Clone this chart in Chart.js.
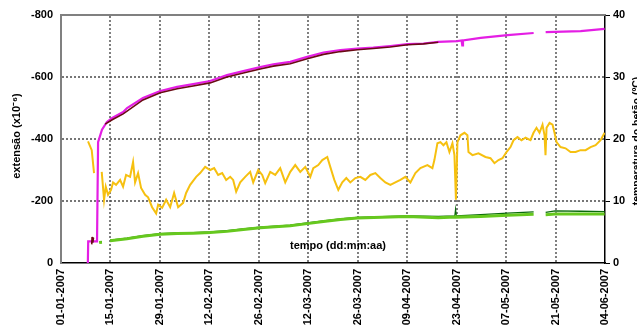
<!DOCTYPE html>
<html>
<head>
<meta charset="utf-8">
<script src="https://cdn.jsdelivr.net/npm/chart.js@4/dist/chart.umd.min.js"></script>
<style>
  html, body { margin: 0; padding: 0; background: #fff; overflow: hidden; }
  canvas { display: block; }
</style>
</head>
<body>
<canvas id="c" width="637" height="328"></canvas>
<script>
// Days counted from 01-01-2007
const tickDays = [0, 14, 28, 42, 56, 70, 84, 98, 112, 126, 140, 154];
const dateLabels = ['01-01-2007', '15-01-2007', '29-01-2007', '12-02-2007', '26-02-2007', '12-03-2007',
                    '26-03-2007', '09-04-2007', '23-04-2007', '07-05-2007', '21-05-2007', '04-06-2007'];
const strainTicks = [-800, -600, -400, -200, 0];
const tempTicks = [0, 10, 20, 30, 40];

// Strain gauge A (magenta), x10^-6
const gaugeADays = [7.6, 7.7, 10.2, 10.5, 11.6, 13.0, 14.5, 17.6, 18.7, 23.2, 28.1, 32.9, 37.4, 42.2, 47.0,
                    51.6, 56.4, 60.1, 64.9, 69.7, 74.3, 79.1, 83.9, 88.4, 93.2, 98.1, 102.6, 106.8, 112.2,
                    113.4, 113.6, 113.8, 118.8, 126.4, 133.8, 135.5, 137.2, 147.1, 153.9];
const gaugeAVals = [0, -70, -70, -390, -430, -455, -468, -487, -500, -532, -555, -568, -577, -587, -606,
                    -619, -632, -641, -649, -665, -679, -687, -692, -695, -700, -706, -708, -713, -716,
                    -718, -702, -718, -726, -735, -742, null, -745, -748, -755];

// Strain gauge B (dark red), x10^-6
const gaugeBDays = [8.7, 8.8, 9.0, 9.2, 9.6, 12.5, 14.5, 17.6, 23.2, 28.1, 32.9, 37.4, 42.2, 47.0, 51.6,
                    56.4, 60.1, 64.9, 69.7, 74.3, 79.1, 83.9, 88.4, 93.2, 98.1, 102.6, 106.8];
const gaugeBVals = [-60, -84, -66, -82, null, -448, -462, -481, -526, -549, -562, -571, -581, -600, -613,
                    -626, -635, -643, -659, -673, -682, -688, -692, -697, -704, -707, -712];

// Concrete temperature (ºC)
const tempDays = [7.65, 8.7, 9.35, 10.0,
  11.53, 12.19, 12.67, 13.32, 14.17, 14.74, 15.59, 16.73, 17.57, 18.42, 19.55, 20.40, 20.97, 21.82, 22.67,
  23.81, 24.66, 25.79, 26.93, 27.49, 28.63, 29.76, 30.90, 32.02, 33.16, 34.57, 35.42, 36.56, 38.26, 39.39,
  40.81, 42.23, 43.36, 44.49, 45.63, 46.76, 47.90, 48.74, 49.59, 50.73, 52.14, 53.56, 54.41, 55.83, 56.96,
  57.81, 59.23, 60.65, 62.06, 63.48, 64.90, 66.31, 67.73, 69.15, 70.57, 71.42, 72.83, 73.97, 75.38, 76.23,
  77.37, 78.50, 79.63, 80.77, 81.90, 83.32, 84.74, 86.15, 87.57, 88.99, 90.40, 91.82, 93.24, 94.65, 96.07,
  97.49, 98.91, 100.32, 101.74, 103.72, 105.14, 105.70, 106.56, 107.41, 108.26, 109.11, 109.96, 110.81,
  111.38, 111.80, 112.23, 113.08, 114.21, 115.06, 115.35, 116.48, 118.18, 120.16, 121.58, 122.71, 123.84,
  124.98, 126.11, 127.25, 128.10, 129.23, 130.36, 131.50, 132.91, 133.76, 134.61, 135.46, 136.31, 136.88,
  137.16, 137.45, 138.30, 139.15, 139.71, 140.28, 141.41, 142.83, 144.25, 145.67, 147.08, 148.50, 149.92,
  151.34, 152.75, 153.88];
const tempVals = [19.6, 18.2, 14.5, null,
  14.7, 10.2, 12.3, 11.0, 11.8, 13.0, 12.6, 13.4, 12.3, 14.2, 13.9, 16.3, 13.0, 14.5, 12.1,
  11.0, 10.6, 9.0, 8.0, 9.4, 8.9, 10.2, 9.0, 11.3, 9.0, 9.7, 11.3, 12.6, 13.9, 14.5,
  15.5, 15.0, 15.3, 14.2, 14.5, 13.4, 13.9, 13.4, 11.5, 13.0, 13.9, 14.7, 13.0, 15.0, 14.2,
  12.9, 14.7, 14.2, 15.3, 13.0, 14.7, 15.8, 14.7, 15.5, 13.9, 15.3, 15.8, 16.6, 17.1, 15.5,
  13.4, 11.8, 13.0, 13.7, 13.0, 13.7, 13.9, 13.4, 14.2, 14.5, 13.7, 13.0, 12.6, 13.0, 13.4,
  13.9, 13.0, 14.5, 15.3, 15.8, 15.3, 16.6, 19.3, 19.5, 19.0, 19.5, 17.9, 19.3,
  17.4, 10.2, 19.5, 20.6, 21.0, 20.6, 17.9, 17.4, 17.7, 17.1, 16.9, 16.1, 16.6,
  16.9, 17.9, 18.7, 19.8, 20.3, 19.8, 20.2, 19.8, 21.0, 21.8, 21.0, 22.3, 20.6,
  17.4, 21.8, 22.6, 22.3, 21.0, 19.5, 18.7, 18.5, 17.9, 17.9, 18.2, 18.2, 18.7,
  19.0, 19.8, 21.0];

// Strain gauges C (dark green) and D (light green), x10^-6
const gaugeCDays = [10.8, 11.6, 12.0, 12.8, 13.2, 13.9, 18.7, 23.2, 28.1, 32.9, 37.4, 42.2, 47.0, 51.6, 56.4,
                    64.9, 69.7, 74.3, 79.1, 83.9, 93.2, 98.1, 106.8, 111.5, 111.7, 111.9, 118.8, 126.4,
                    133.8, 135.5, 137.2, 139.9, 147.1, 153.9];
const gaugeCVals = [-68, -69, null, -71, null, -74, -80, -88, -95, -97, -98, -100, -104, -110, -116,
                    -122, -129, -136, -142, -147, -150, -152, -150, -152, -172, -152, -156, -161,
                    -165, null, -163, -168, -167, -166];
const gaugeDVals = [-66, -67, null, -69, null, -72, -78, -86, -93, -95, -96, -98, -102, -108, -114,
                    -120, -127, -134, -140, -145, -148, -150, -146, -148, -150, -148, -150, -154,
                    -157, null, -156, -158, -158, -158];

const toPoints = (xs, ys) => xs.map((x, i) => ({ x: x, y: ys[i] }));

const FONT = '"Liberation Sans", Arial, sans-serif';

// Dotted grid, grey top frame line and the axis titles
const frameAndTitles = {
  id: 'frameAndTitles',
  beforeDatasetsDraw(chart) {
    const { ctx, chartArea: a, scales } = chart;
    ctx.save();
    ctx.strokeStyle = '#4a4a4a';
    ctx.lineWidth = 1.4;
    ctx.setLineDash([2, 2]);
    ctx.beginPath();
    tickDays.slice(1, -1).forEach(d => {
      const x = Math.round(scales.x.getPixelForValue(d));
      ctx.moveTo(x, a.top + 1);
      ctx.lineTo(x, a.bottom);
    });
    strainTicks.slice(1, -1).forEach(v => {
      const y = Math.round(scales.y.getPixelForValue(v));
      ctx.moveTo(a.left + 1, y);
      ctx.lineTo(a.right, y);
    });
    ctx.stroke();
    ctx.setLineDash([]);
    ctx.strokeStyle = '#808080';
    ctx.lineWidth = 2;
    ctx.beginPath();
    ctx.moveTo(a.left - 1, a.top);
    ctx.lineTo(a.right, a.top);
    ctx.stroke();
    ctx.restore();
  },
  afterDraw(chart) {
    const { ctx } = chart;
    ctx.save();
    ctx.fillStyle = '#000';
    ctx.font = 'bold 11px ' + FONT;
    ctx.textAlign = 'center';
    ctx.textBaseline = 'middle';
    ctx.fillText('tempo (dd:mm:aa)', 338, 246);

    ctx.save();
    ctx.translate(17, 136);
    ctx.rotate(-Math.PI / 2);
    ctx.fillText('extensão (x10⁻⁶)', 0, 0);
    ctx.restore();

    ctx.save();
    ctx.translate(632, 141);
    ctx.rotate(-Math.PI / 2);
    ctx.textBaseline = 'top';
    ctx.font = 'bold 10.5px ' + FONT;
    ctx.fillText('temperatura do betão (ºC)', 0, 0);
    ctx.restore();
    ctx.restore();
  }
};

new Chart(document.getElementById('c'), {
  type: 'line',
  data: {
    datasets: [
      { label: 'gauge D', data: toPoints(gaugeCDays, gaugeDVals), yAxisID: 'y',
        borderColor: '#66c81e', borderWidth: 3 },
      { label: 'gauge C', data: toPoints(gaugeCDays, gaugeCVals), yAxisID: 'y',
        borderColor: '#0a6a0a', borderWidth: 1.3 },
      { label: 'temperatura', data: toPoints(tempDays, tempVals), yAxisID: 'y1',
        borderColor: '#f6c010', borderWidth: 2 },
      { label: 'gauge B', data: toPoints(gaugeBDays, gaugeBVals), yAxisID: 'y',
        borderColor: '#6a0a14', borderWidth: 1.6 },
      { label: 'gauge A', data: toPoints(gaugeADays, gaugeAVals), yAxisID: 'y',
        borderColor: '#e41ee4', borderWidth: 2.2 }
    ]
  },
  options: {
    responsive: false,
    animation: false,
    devicePixelRatio: 1,
    spanGaps: false,
    elements: { point: { radius: 0 }, line: { tension: 0 } },
    layout: { padding: { top: 15, left: 0, right: 0, bottom: 0 } },
    plugins: { legend: { display: false }, tooltip: { enabled: false } },
    scales: {
      x: {
        type: 'linear', min: 0, max: 154,
        afterBuildTicks: s => { s.ticks = tickDays.map(v => ({ value: v })); },
        afterFit: s => { s.height = 65; },
        ticks: {
          callback: (v, i) => dateLabels[i],
          minRotation: 90, maxRotation: 90, autoSkip: false, padding: 6,
          color: '#000', font: { family: FONT, size: 11, weight: 'bold' }
        },
        grid: { drawOnChartArea: false, drawTicks: false },
        border: { color: '#000', width: 1.5 }
      },
      y: {
        position: 'left', min: -800, max: 0, reverse: true,
        afterBuildTicks: s => { s.ticks = strainTicks.map(v => ({ value: v })); },
        afterFit: s => { s.width = 61; },
        ticks: { padding: 8, color: '#000', font: { family: FONT, size: 11, weight: 'bold' } },
        grid: { drawOnChartArea: false, drawTicks: false },
        border: { color: '#808080', width: 2 }
      },
      y1: {
        position: 'right', min: 0, max: 40,
        afterBuildTicks: s => { s.ticks = tempTicks.map(v => ({ value: v })); },
        afterFit: s => { s.width = 32; },
        ticks: { padding: 3, color: '#000', font: { family: FONT, size: 11, weight: 'bold' } },
        grid: { drawOnChartArea: false, drawTicks: true, tickLength: 5, color: '#000', lineWidth: 1 },
        border: { color: '#000', width: 1.5 }
      }
    }
  },
  plugins: [frameAndTitles]
});
</script>
</body>
</html>
